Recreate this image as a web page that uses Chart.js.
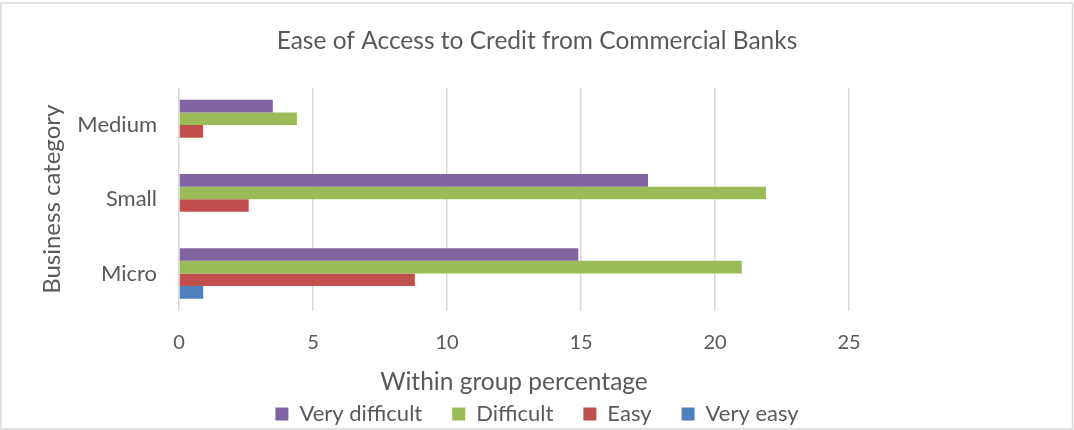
<!DOCTYPE html>
<html>
<head>
<meta charset="utf-8">
<script src="https://cdn.jsdelivr.net/npm/chart.js@4.4.1/dist/chart.umd.min.js"></script>
<style>
  html, body { margin: 0; padding: 0; background: #fff; }
  #wrap { width: 1074px; height: 430px; position: relative; }
</style>
</head>
<body>
<div id="wrap"><canvas id="chart"></canvas></div>
<script>
// Business categories, listed top to bottom
const categories = ['Medium', 'Small', 'Micro'];

// Share of each group (percent) by perceived ease of access
const veryDifficult = [3.5, 17.5, 14.9];
const difficult     = [4.4, 21.9, 21.0];
const easy          = [0.9, 2.6, 8.8];
const veryEasy      = [0, 0, 0.9];

const xTicks = [0, 5, 10, 15, 20, 25];

const TEXT = '#595959';
const FONT = 'Lato, "Open Sans", sans-serif';

// Light frame around the whole figure
const framePlugin = {
  id: 'frame',
  beforeDraw(chart) {
    const c = chart.ctx;
    c.save();
    c.fillStyle = '#ffffff';
    c.fillRect(0, 0, chart.width, chart.height);
    c.strokeStyle = '#d9d9d9';
    c.lineWidth = 1.5;
    c.strokeRect(1, 3, chart.width - 2.5, chart.height - 4);
    c.restore();
  }
};

new Chart(document.getElementById('chart'), {
  type: 'bar',
  data: {
    labels: categories,
    datasets: [
      { label: 'Very difficult', data: veryDifficult, backgroundColor: '#8064A2' },
      { label: 'Difficult',      data: difficult,     backgroundColor: '#9BBB59' },
      { label: 'Easy',           data: easy,          backgroundColor: '#C0504D' },
      { label: 'Very easy',      data: veryEasy,      backgroundColor: '#4F81BD' }
    ]
  },
  options: {
    indexAxis: 'y',
    responsive: true,
    maintainAspectRatio: false,
    animation: false,
    layout: { padding: { left: 0, right: 0, top: 0, bottom: -5 } },
    datasets: { bar: { barPercentage: 1, categoryPercentage: 0.68, borderWidth: 0 } },
    scales: {
      x: {
        min: 0, max: 25,
        afterBuildTicks(scale) { scale.ticks = xTicks.map(v => ({ value: v })); },
        grid: { color: '#d9d9d9', lineWidth: 1.5, drawTicks: false },
        border: { display: false },
        ticks: { color: TEXT, font: { family: FONT, size: 20 }, padding: 20 },
        title: {
          display: true, text: 'Within group percentage', color: TEXT,
          font: { family: FONT, size: 24.5, lineHeight: 1 }, padding: { top: -5, bottom: -21 }
        }
      },
      y: {
        grid: { display: false, drawTicks: false },
        border: { display: false },
        ticks: { color: TEXT, font: { family: FONT, size: 22 }, padding: 22 },
        title: {
          display: true, text: 'Business category', color: TEXT,
          font: { family: FONT, size: 24 }, padding: 38
        },
        afterFit(scale) { scale.width = 179; }
      },
      spacer: {
        type: 'linear', position: 'right', min: 0, max: 1,
        grid: { display: false }, border: { display: false },
        ticks: { display: false },
        afterFit(scale) { scale.width = 225; }
      }
    },
    plugins: {
      title: {
        display: true, text: 'Ease of Access to Credit from Commercial Banks',
        color: TEXT, font: { family: FONT, size: 24.5, weight: 'normal' },
        padding: { top: 26.3, bottom: 32.3 }
      },
      legend: {
        position: 'bottom',
        labels: {
          color: TEXT, font: { family: FONT, size: 22 },
          boxWidth: 13, boxHeight: 13, padding: 30
        }
      },
      tooltip: { enabled: false }
    }
  },
  plugins: [framePlugin]
});
</script>
</body>
</html>
